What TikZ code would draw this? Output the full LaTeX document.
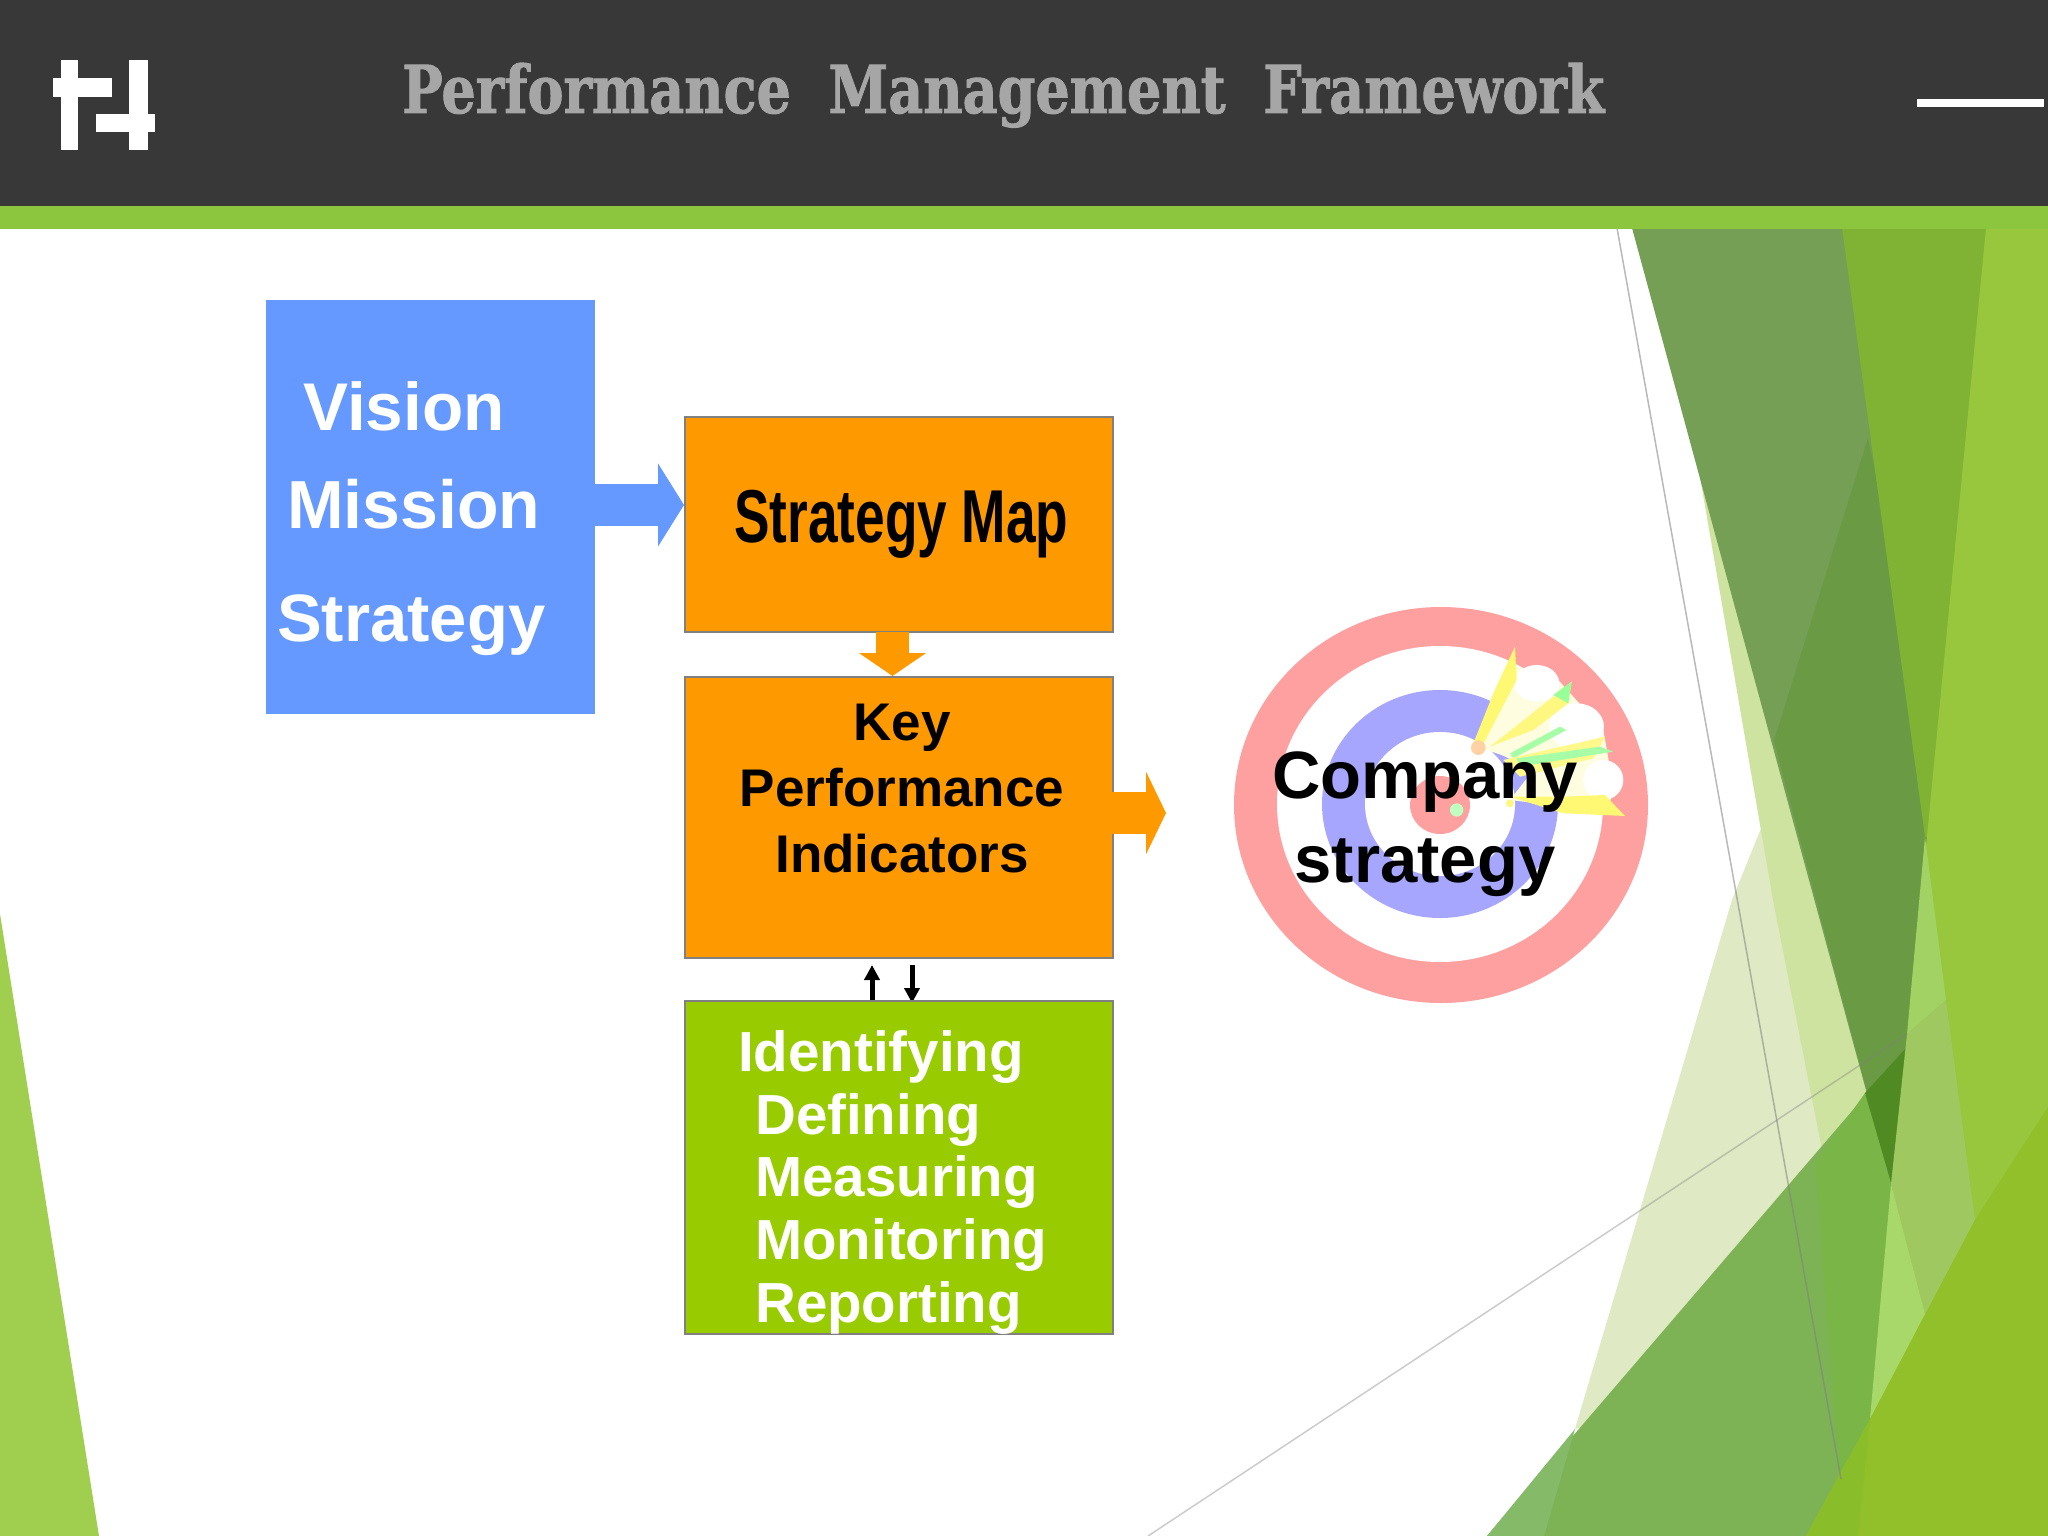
\documentclass[tikz,border=0pt]{standalone}
\usepackage{fontspec}
\usepackage{xcolor}
\usepackage{tikz}
\usetikzlibrary{arrows.meta}
\setmainfont{Liberation Sans}
\newfontfamily\titlefont{DejaVu Serif}[BoldFeatures={FakeBold=1.5}]

\definecolor{darkbar}{HTML}{383838}
\definecolor{greenbar}{HTML}{8CC63E}
\definecolor{boxblue}{HTML}{6699FF}
\definecolor{boxorange}{HTML}{FF9900}
\definecolor{boxgreen}{HTML}{99CC00}
\definecolor{ringred}{HTML}{FFA0A0}
\definecolor{ringblue}{HTML}{A6A6FF}
\definecolor{palefacet}{HTML}{DFE9C4}
\definecolor{stripfacet}{HTML}{CFE3A0}
\definecolor{lowfacet}{HTML}{7DB354}
\definecolor{lowband}{HTML}{7AB548}
\definecolor{lowcorner}{HTML}{85BA68}
\definecolor{greyfacet}{HTML}{759F55}
\definecolor{darkfacet}{HTML}{6A9A44}
\definecolor{deepfacet}{HTML}{4F8A23}
\definecolor{midfacet}{HTML}{80B233}
\definecolor{columnfacet}{HTML}{98C63C}
\definecolor{patchtop}{HTML}{A2D164}
\definecolor{patchmid}{HTML}{A0C860}
\definecolor{patchlow}{HTML}{A8D76A}
\definecolor{brightfacet}{HTML}{92C02A}
\definecolor{brightleft}{HTML}{8ABD2A}
\definecolor{leftfacet}{HTML}{A0CE4E}

\tikzset{
  plainbox/.style={anchor=north west, inner sep=0pt, outer sep=0pt},
  framebox/.style={plainbox, draw=gray, line width=2pt},
  label/.style={anchor=base west, inner sep=0pt, font=\bfseries\fontsize{#1}{#1}\selectfont},
  thinarrow/.style={line width=5pt, -{Triangle[length=15pt,width=15pt]}},
}

\begin{document}
\begin{tikzpicture}[x=1pt,y=-1pt]
\useasboundingbox (0,0) rectangle (2048,1536);
\fill[white] (0,0) rectangle (2048,1536);

% facets
\fill[palefacet] (1575,1429) -- (1732,900) -- (1790,757) -- (1892,1186) -- (1700,1400) -- cycle;
\fill[stripfacet] (1710,477) -- (1700,477) -- (1773,900) -- (1825,1165) -- (1880,1100) -- cycle;
\fill[lowfacet] (1487,1536) -- (1907,1047) -- (2048,883) -- (2048,1536) -- cycle;
\fill[lowcorner] (1487,1536) -- (1575,1429) -- (1544,1536) -- cycle;
\fill[lowband] (1815,1164) -- (1865,1093) -- (1891,1184) -- (1880,1480) -- (1839,1472) -- cycle;
\fill[greyfacet] (1632,228) -- (1860,228) -- (1950,837) -- (1900,1186) -- (1892,1186) -- cycle;
\fill[darkfacet] (1868,438) -- (1950,837) -- (1900,1186) -- (1892,1186) -- (1774,741) -- cycle;
\fill[deepfacet] (1865,1093) -- (1907,1047) -- (1920,1047) -- (1900,1186) -- (1892,1186) -- cycle;
\fill[midfacet] (1842,228) -- (2000,228) -- (1950,837) -- (1925,837) -- cycle;
\fill[columnfacet] (1986,228) -- (2048,228) -- (2048,1536) -- (1859,1536) -- cycle;
\fill[patchtop] (1925,837) -- (1946,1000) -- (1907,1034) -- cycle;
\fill[patchmid] (1907,1034) -- (1946,1000) -- (1975,1220) -- (1925,1314) -- (1891,1184) -- cycle;
\fill[patchlow] (1891,1184) -- (1925,1314) -- (1870,1419) -- cycle;
\fill[brightfacet] (1806,1536) -- (1870,1419) -- (1975,1220) -- (2048,1107) -- (2048,1536) -- cycle;
\fill[brightleft] (1806,1536) -- (1870,1419) -- (1858,1536) -- cycle;
\fill[leftfacet] (0,914) -- (99,1536) -- (0,1536) -- cycle;
\draw[gray, opacity=.55, line width=1.5pt] (1617,228) -- (1841,1479);
\draw[gray, opacity=.4, line width=1.5pt] (1148,1536) -- (1907,1034);

% header
\fill[darkbar] (0,0) rectangle (2048,206);
\fill[greenbar] (0,206) rectangle (2048,229);
\fill[white] (61,60) rectangle (78,150);
\fill[white] (129,60) rectangle (148,150);
\fill[white] (53,78) rectangle (112,97);
\fill[white] (96,114) rectangle (155,132);
\fill[white] (1917,99) rectangle (2044,107);
\node[label=66, text=gray!70, xscale=.819] (title) at (402,113)
  {\titlefont Performance\ \ Management\ \ Framework};

% target
\fill[ringred] (1441,805) ellipse (207 and 198);
\fill[white] (1440,804) ellipse (163 and 158);
\fill[ringblue] (1440,804) ellipse (118 and 114);
\fill[white] (1440,804) ellipse (75 and 72);
\fill[ringred] (1440,805) ellipse (30 and 29);
\begin{scope}[shift={(1200,580)},x=.3333pt,y=-.3333pt]
% darts
\fill[yellow!12] (830,500) -- (950,260) -- (1075,300) -- (1210,450) -- (1240,620) -- (1230,670) -- (1090,680) -- (930,660) -- (1000,570) -- (905,525) -- cycle;
\fill[white] (1010,310) ellipse (68 and 55);
\fill[yellow!55] (820,490) -- (880,340) -- (945,200) -- (950,300) -- (840,510) -- cycle;
\fill[white] (1130,440) ellipse (82 and 70);
\fill[yellow!50] (870,500) -- (1060,350) -- (1115,305) -- (1105,370) -- (1000,450) -- cycle;
\fill[green!40] (1060,345) -- (1115,305) -- (1105,370) -- cycle;
\fill[green!35] (930,520) -- (1080,440) -- (1100,450) -- (940,535) -- cycle;
\fill[white] (1210,600) ellipse (60 and 60);
\fill[yellow!45] (910,540) -- (1215,470) -- (1180,535) -- (960,590) -- cycle;
\fill[green!35] (950,535) -- (1200,500) -- (1240,515) -- (960,560) -- cycle;
\fill[yellow!55] (930,650) -- (1090,650) -- (1215,645) -- (1275,708) -- (1090,700) -- cycle;
\fill[orange!35] (835,503) circle (22);
\fill[yellow!50!white] (930,670) circle (12);
\fill[white!75!green] (770,690) circle (20);
\end{scope}

% boxes
\node[plainbox, fill=boxblue, minimum width=329pt, minimum height=414pt] (vision) at (266,300) {};
\node[framebox, fill=boxorange, minimum width=428pt, minimum height=215pt] (stratmap) at (685,417) {};
\node[framebox, fill=boxorange, minimum width=428pt, minimum height=281pt] (kpi) at (685,677) {};

% block arrows
\coordinate (visionout) at (595,505);
\coordinate (stratin) at (684,505);
\coordinate (stratout) at (892.5,632);
\coordinate (kpiin) at (892.5,676);
\coordinate (kpiout) at (1112,813);
\coordinate (targetin) at (1166,813);
\draw[line width=42pt, draw=boxblue, -{Triangle[length=26pt,width=82pt]}] (visionout) -- (stratin);
\draw[line width=33pt, draw=boxorange, -{Triangle[length=23pt,width=66pt]}] (stratout) -- (kpiin);
\draw[line width=42pt, draw=boxorange, -{Triangle[length=20pt,width=82pt]}] (kpiout) -- (targetin);
\coordinate (upa) at (872,1001);
\coordinate (upb) at (872,965);
\coordinate (downa) at (912,965);
\coordinate (downb) at (912,1003);
\draw[thinarrow] (upa) -- (upb);
\draw[thinarrow] (downa) -- (downb);
\node[framebox, fill=boxgreen, minimum width=428pt, minimum height=333pt] (steps) at (685,1001) {};

% labels
\node[label=67.5, text=white] (lvision) at (303,430) {Vision};
\node[label=68, text=white] (lmission) at (287,528) {Mission};
\node[label=67, text=white] (lstrategy) at (277,641) {Strategy};
\node[label=75, xscale=.71] (lmap) at (734,542) {Strategy Map};
\node[label=53, anchor=base] (lkey) at (902,740) {Key};
\node[label=53, anchor=base] (lperf) at (902,806) {Performance};
\node[label=53, anchor=base] (lind) at (902,872) {Indicators};
\node[label=56.5, text=white] (lid) at (738,1071) {Identifying};
\node[label=56.5, text=white] (ldef) at (755,1134) {Defining};
\node[label=56.5, text=white] (lmeas) at (755,1196) {Measuring};
\node[label=56.5, text=white] (lmon) at (755,1259) {Monitoring};
\node[label=56.5, text=white] (lrep) at (755,1322) {Reporting};
\node[label=67, anchor=base] (lcomp) at (1425,798) {Company};
\node[label=67, anchor=base] (lstrat) at (1425,882) {strategy};
\end{tikzpicture}
\end{document}
